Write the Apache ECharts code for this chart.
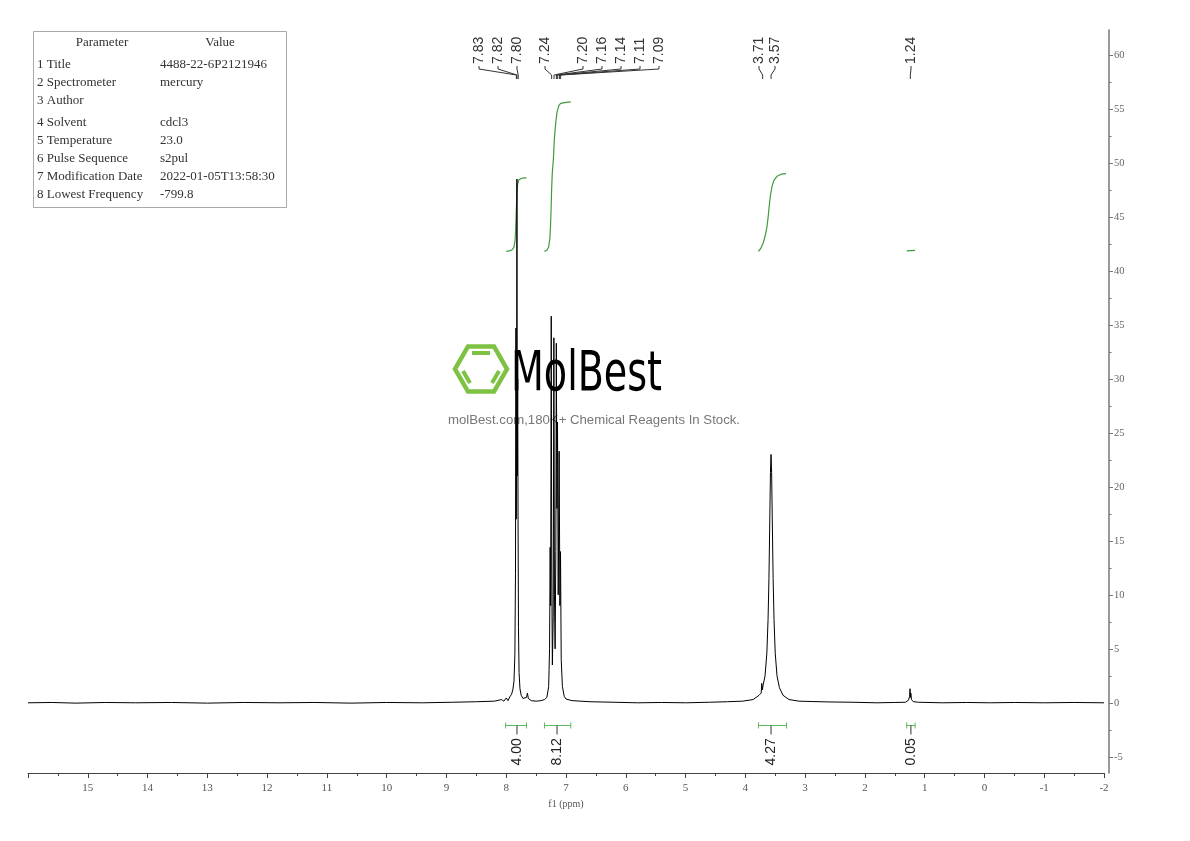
<!DOCTYPE html>
<html><head><meta charset="utf-8">
<script src="https://cdn.jsdelivr.net/npm/echarts@6/dist/echarts.min.js"></script>
<style>html,body{margin:0;padding:0;background:#fff}#c{width:1190px;height:841px}</style>
</head><body><div id="c"></div>
<script>
// ---------------- DATA ----------------
const spectrum = [
[16.0,0],[15.6,0.03],[15.2,-0.03],[14.7,0.03],[14.2,0],[13.6,0.03],[13.0,-0.03],[12.4,0.03],[11.8,0],[11.2,0.03],[10.6,-0.03],[10.0,0.03],[9.4,0],[8.9,0.05],[8.5,0.1],[8.2,0.15],[8.08,0.3],[8.04,0.15],[8.00,0.45],[7.97,0.2],[7.94,0.55],[7.91,0.8],[7.89,1.2],[7.87,2.0],[7.855,4.5],[7.845,12],[7.838,34.7],[7.832,17],[7.826,24],[7.821,48.5],[7.815,21],[7.808,30],[7.802,17],[7.795,7],[7.785,2.8],[7.77,1.3],[7.75,0.7],[7.72,0.4],[7.69,0.3],[7.66,0.5],[7.645,0.9],[7.63,0.4],[7.58,0.2],[7.5,0.15],[7.42,0.2],[7.36,0.3],[7.32,0.5],[7.29,1.5],[7.275,5],[7.265,14.4],[7.257,9],[7.247,35.8],[7.238,12],[7.228,3.5],[7.214,8],[7.203,33.8],[7.193,10],[7.182,5],[7.17,14],[7.162,33.3],[7.152,18],[7.142,26],[7.13,10],[7.115,23.3],[7.102,9],[7.092,14],[7.08,4],[7.06,1.5],[7.03,0.6],[7.0,0.35],[6.9,0.2],[6.6,0.1],[6.2,0.05],[5.8,0],[5.4,0.03],[5.0,0],[4.6,0.05],[4.3,0.1],[4.05,0.15],[3.87,0.3],[3.77,0.7],[3.735,0.9],[3.725,1.8],[3.715,1.2],[3.70,1.7],[3.67,2.5],[3.64,4.6],[3.62,7.7],[3.605,11.5],[3.59,17.3],[3.58,21.3],[3.57,23],[3.56,21.3],[3.55,17.3],[3.535,11.5],[3.52,7.7],[3.50,4.6],[3.47,2.5],[3.43,1.4],[3.37,0.7],[3.27,0.3],[3.1,0.15],[2.9,0.12],[2.6,0.08],[2.2,0.05],[1.8,0],[1.5,0.03],[1.32,0.05],[1.27,0.25],[1.252,0.6],[1.245,1.3],[1.238,0.5],[1.232,0.9],[1.22,0.3],[1.19,0.1],[1.1,0.05],[0.7,0],[0.3,0.03],[-0.1,0],[-0.5,0.03],[-1.0,0],[-1.5,0.03],[-2.0,0]
];
const integral1 = [[8.00,41.8],[7.95,41.85],[7.90,41.95],[7.87,42.2],[7.85,42.9],[7.84,44.2],[7.83,45.8],[7.82,47.2],[7.81,48.0],[7.79,48.4],[7.75,48.55],[7.70,48.6],[7.66,48.6]];
const integral2 = [[7.36,41.8],[7.32,41.9],[7.29,42.2],[7.27,43.0],[7.26,44.0],[7.25,45.6],[7.24,47.6],[7.23,49.0],[7.21,50.4],[7.195,52.2],[7.17,53.8],[7.15,54.7],[7.12,55.3],[7.09,55.5],[7.0,55.6],[6.92,55.65]];
const integral3 = [[3.78,41.8],[3.74,42.1],[3.70,42.6],[3.67,43.2],[3.64,44.0],[3.62,44.9],[3.60,46.0],[3.58,47.0],[3.55,47.9],[3.52,48.4],[3.47,48.75],[3.40,48.95],[3.32,49.0]];
const integral4 = [[1.30,41.85],[1.16,41.9]];

const integralFrom = [8.01, 7.36, 3.78, 1.30];
const integralTo   = [7.66, 6.92, 3.31, 1.16];
const integralAt   = [7.82, 7.15, 3.57, 1.23];
const integralText = ['4.00', '8.12', '4.27', '0.05'];

const peakPpm = [7.83, 7.82, 7.80, 7.24, 7.20, 7.16, 7.14, 7.11, 7.09, 3.71, 3.57, 1.24];
const peakText = ['7.83','7.82','7.80','7.24','7.20','7.16','7.14','7.11','7.09','3.71','3.57','1.24'];

const yTickValues = [-5,0,5,10,15,20,25,30,35,40,45,50,55,60];
const yMinorValues = [-2.5,2.5,7.5,12.5,17.5,22.5,27.5,32.5,37.5,42.5,47.5,52.5,57.5,62.5];

const paramNames = ['1 Title','2 Spectrometer','3 Author','4 Solvent','5 Temperature','6 Pulse Sequence','7 Modification Date','8 Lowest Frequency'];
const paramValues = ['4488-22-6P2121946','mercury','','cdcl3','23.0','s2pul','2022-01-05T13:58:30','-799.8'];

// ---------------- LAYOUT ----------------
const peakLabelX = [479, 498, 517, 545, 583, 602, 621, 640, 659, 759, 775, 911];
const rowY = [65, 83, 101, 123, 141, 159, 177, 195];
const BRACKET_Y = -2.1;
const SERIF = '"Liberation Serif", "DejaVu Serif", serif';
const SANS = '"Liberation Sans", Arial, sans-serif';
const GREEN_INT = '#3f9a3f';
const GREEN_BR = '#5cb85c';

const ctx = document.createElement('canvas').getContext('2d');
const logoFont = '56px "Liberation Sans Narrow", "DejaVu Sans Condensed", "Liberation Sans", sans-serif';
ctx.font = logoFont;
const logoScale = 151 / ctx.measureText('MolBest').width;
const subFont = '12.5px ' + SANS;
ctx.font = subFont;
const subText = 'molBest.com,180K+ Chemical Reagents In Stock.';
const subScale = 292 / ctx.measureText(subText).width;

// table graphics
const TF = '13px ' + SERIF;
const tableEls = [{type:'rect', shape:{x:33.5,y:31.5,width:253,height:176}, style:{fill:'#fff',stroke:'#aaa',lineWidth:1}, z:5},
  {type:'text', x:102, y:43, style:{text:'Parameter', font:TF, fill:'#333', align:'center', verticalAlign:'middle'}, z:6},
  {type:'text', x:220, y:43, style:{text:'Value', font:TF, fill:'#333', align:'center', verticalAlign:'middle'}, z:6}];
paramNames.forEach((n,i)=>{
  tableEls.push({type:'text', x:37, y:rowY[i], style:{text:n, font:TF, fill:'#333', align:'left', verticalAlign:'middle'}, z:6});
  tableEls.push({type:'text', x:160, y:rowY[i], style:{text:paramValues[i], font:TF, fill:'#333', align:'left', verticalAlign:'middle'}, z:6});
});

// watermark
const hc = [481, 369], R = 26;
const hex = [];
for (let k=0;k<6;k++){ const a = k*Math.PI/3; hex.push([hc[0]+R*Math.cos(a), hc[1]-R*Math.sin(a)]); }
const wmEls = [
  {type:'polygon', shape:{points:hex}, style:{fill:'none', stroke:'#7dc242', lineWidth:4.5}, z:0},
  {type:'line', shape:{x1:472,y1:353,x2:490,y2:353}, style:{stroke:'#7dc242', lineWidth:4}, z:0},
  {type:'line', shape:{x1:463,y1:371,x2:470,y2:383}, style:{stroke:'#7dc242', lineWidth:4}, z:0},
  {type:'line', shape:{x1:492,y1:383,x2:499,y2:371}, style:{stroke:'#7dc242', lineWidth:4}, z:0},
  {type:'text', x:511, y:375, scaleX:logoScale, style:{text:'MolBest', font:logoFont, fill:'#000', align:'left', verticalAlign:'middle'}, z:0},
  {type:'text', x:448, y:421, scaleX:subScale, style:{text:subText, font:subFont, fill:'#777', align:'left', verticalAlign:'middle'}, z:0}
];

const chart = echarts.init(document.getElementById('c'), null, {renderer:'canvas'});
const intLine = (d) => ({type:'line', data:d, showSymbol:false, symbol:'none', lineStyle:{color:GREEN_INT, width:1.2}, z:3, silent:true, animation:false});

chart.setOption({
  animation:false,
  backgroundColor:'#fff',
  grid:{left:28, right:86, top:30, bottom:68},
  xAxis:{type:'value', min:-2, max:16, interval:1, inverse:true,
    axisLine:{onZero:false, lineStyle:{color:'#444', width:1}},
    axisTick:{length:5, lineStyle:{color:'#444'}},
    minorTick:{show:true, splitNumber:2, length:3, lineStyle:{color:'#444'}},
    splitLine:{show:false},
    axisLabel:{fontFamily:'Liberation Serif', fontSize:11, color:'#555', margin:10, formatter:(v)=> v===16 ? '' : String(v)},
    name:'f1 (ppm)', nameLocation:'middle', nameGap:25,
    nameTextStyle:{fontFamily:'Liberation Serif', fontSize:10, color:'#555'}
  },
  yAxis:[
    {type:'value', min:-6.5, max:62.3, position:'right', offset:5,
     axisLine:{show:true, onZero:false, lineStyle:{color:'#777', width:1.5}},
     axisTick:{show:true, customValues:yTickValues, length:4, lineStyle:{color:'#777'}},
     axisLabel:{customValues:yTickValues, fontFamily:'Liberation Serif', fontSize:10.5, color:'#666', margin:5},
     splitLine:{show:false}},
    {type:'value', min:-6.5, max:62.3, position:'right', offset:5,
     axisLine:{show:false, onZero:false},
     axisTick:{show:true, customValues:yMinorValues, length:2.5, lineStyle:{color:'#777'}},
     axisLabel:{show:false}, splitLine:{show:false}}
  ],
  graphic:{elements: wmEls.concat(tableEls)},
  series:[
    {type:'line', data:spectrum, showSymbol:false, symbol:'none', lineStyle:{color:'#000', width:1}, z:4, silent:true, animation:false},
    intLine(integral1), intLine(integral2), intLine(integral3), intLine(integral4),
    {type:'custom', clip:false, silent:true, z:5,
     data: integralFrom.map((f,i)=>[f, integralTo[i], integralAt[i]]),
     renderItem:(params, api)=>{
       const i = params.dataIndex;
       const p1 = api.coord([api.value(0), BRACKET_Y]);
       const p2 = api.coord([api.value(1), BRACKET_Y]);
       const pl = api.coord([api.value(2), BRACKET_Y]);
       const y = p1[1];
       return {type:'group', children:[
         {type:'line', shape:{x1:p1[0],y1:y,x2:p2[0],y2:y}, style:{stroke:GREEN_BR, lineWidth:1}},
         {type:'line', shape:{x1:p1[0],y1:y-3,x2:p1[0],y2:y+3}, style:{stroke:GREEN_BR, lineWidth:1}},
         {type:'line', shape:{x1:p2[0],y1:y-3,x2:p2[0],y2:y+3}, style:{stroke:GREEN_BR, lineWidth:1}},
         {type:'line', shape:{x1:pl[0],y1:y,x2:pl[0],y2:y+9}, style:{stroke:'#333', lineWidth:1}},
         {type:'text', x:pl[0], y:y+40, rotation:Math.PI/2,
          style:{text:integralText[i], font:'14px '+SANS, fill:'#222', align:'left', verticalAlign:'middle'}}
       ]};
     }},
    {type:'custom', clip:false, silent:true, z:5,
     data: peakPpm.map((p)=>[p, 0]),
     renderItem:(params, api)=>{
       const i = params.dataIndex;
       const px = api.coord([api.value(0), 0])[0];
       const lx = peakLabelX[i];
       return {type:'group', children:[
         {type:'polyline', shape:{points:[[lx,66],[lx,69],[px,75],[px,79]]}, style:{stroke:'#333', lineWidth:1, fill:'none'}},
         {type:'text', x:lx, y:64, rotation:Math.PI/2,
          style:{text:peakText[i], font:'14px '+SANS, fill:'#333', align:'left', verticalAlign:'middle'}}
       ]};
     }}
  ]
});
</script></body></html>
